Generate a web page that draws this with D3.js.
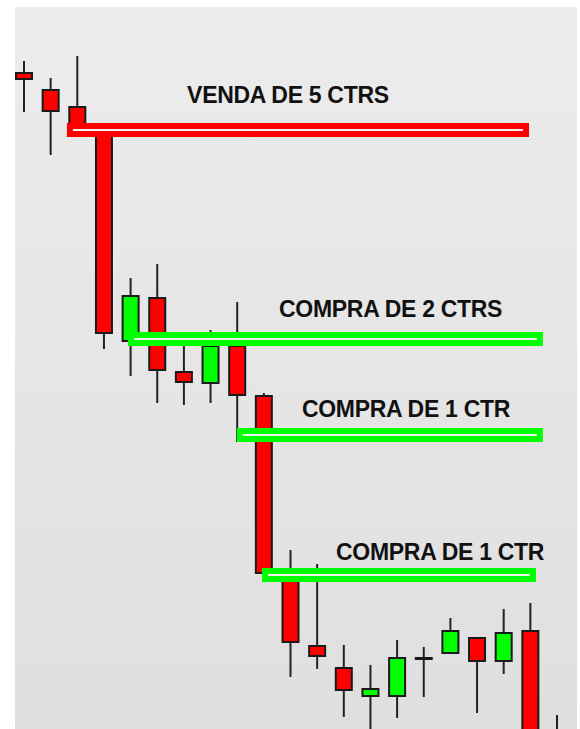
<!DOCTYPE html>
<html>
<head>
<meta charset="utf-8">
<script src="https://cdn.jsdelivr.net/npm/d3@7"></script>
<style>
  body { margin: 0; background: #fff; }
  svg { display: block; }
</style>
</head>
<body>
<script>
// candle data (index points)
const open  = [99670, 99585, 99500, 99380, 98330, 98545, 98175, 98120, 98305, 98055, 97135, 96805, 96695, 96555, 96555, 96745, 96770, 96845, 96730, 96880, 96330]
const high  = [99730, 99645, 99755, 99400, 98645, 98715, 98345, 98385, 98525, 98070, 97285, 97215, 96810, 96710, 96835, 96800, 96945, 96845, 96990, 97020, 96460]
const low   = [99475, 99260, 99370, 98290, 98155, 98020, 98010, 98020, 97825, 97155, 96650, 96690, 96450, 96360, 96445, 96550, 96770, 96470, 96665, 96135, 96150]
const close = [99640, 99480, 99385, 98370, 98555, 98185, 98125, 98305, 98060, 97170, 96825, 96755, 96585, 96590, 96745, 96745, 96880, 96730, 96870, 96235, 96250]

// drawn order levels
const levelNames  = ['VENDA DE 5 CTRS', 'COMPRA DE 2 CTRS', 'COMPRA DE 1 CTR', 'COMPRA DE 1 CTR']
const levelSide   = ['sell', 'buy', 'buy', 'buy']
const levelPrice  = [99385, 98340, 97860, 97160]
const levelFrom   = [1.61, 3.90, 7.99, 8.93]
const levelTo     = [18.95, 19.47, 19.47, 19.21]
const labelIdx    = [6.12, 9.57, 10.43, 11.71]
const labelPrice  = [99520, 98450, 97950, 97235]

const W = 580, H = 729
const panel = { x: 15, y: 7, w: 562, h: 722 }

const svg = d3.select(document.body).append('svg')
  .attr('width', W)
  .attr('height', H)
  .attr('xmlns', 'http://www.w3.org/2000/svg')

const defs = svg.append('defs')
const grad = defs.append('linearGradient')
  .attr('id', 'bg').attr('x1', 0).attr('y1', 0).attr('x2', 0).attr('y2', 1)
grad.append('stop').attr('offset', 0).attr('stop-color', '#ececec')
grad.append('stop').attr('offset', 1).attr('stop-color', '#dfdfdf')

defs.append('clipPath').attr('id', 'clip')
  .append('rect')
  .attr('x', panel.x).attr('y', panel.y)
  .attr('width', panel.w).attr('height', panel.h)

svg.append('rect')
  .attr('x', panel.x).attr('y', panel.y)
  .attr('width', panel.w).attr('height', panel.h)
  .attr('fill', 'url(#bg)')

const x = d3.scaleLinear([0, 20], [24, 557])
const y = d3.scaleLinear([96390, 100000], [729, 7])

const bodyW = 16
const g = svg.append('g').attr('clip-path', 'url(#clip)')

const candles = g.selectAll('g.candle')
  .data(d3.range(open.length))
  .join('g')
  .attr('class', 'candle')

candles.append('line')
  .attr('x1', i => x(i)).attr('x2', i => x(i))
  .attr('y1', i => y(high[i])).attr('y2', i => y(low[i]))
  .attr('stroke', '#222')
  .attr('stroke-width', 2)

candles.append('rect')
  .attr('x', i => x(i) - bodyW / 2)
  .attr('width', bodyW)
  .attr('y', i => y(Math.max(open[i], close[i])))
  .attr('height', i => Math.max(1, Math.abs(y(open[i]) - y(close[i]))))
  .attr('fill', i => close[i] > open[i] ? '#00ff00' : '#ff0000')
  .attr('stroke', '#1a1a1a')
  .attr('stroke-width', 2)

// order levels
const lv = g.selectAll('g.level')
  .data(d3.range(levelPrice.length))
  .join('g')
  .attr('class', 'level')

lv.append('rect')
  .attr('x', i => x(levelFrom[i]))
  .attr('width', i => x(levelTo[i]) - x(levelFrom[i]))
  .attr('y', i => y(levelPrice[i]) - 7)
  .attr('height', 14)
  .attr('fill', i => levelSide[i] === 'sell' ? '#ff0000' : '#00ff00')

lv.append('line')
  .attr('x1', i => x(levelFrom[i]) + 6)
  .attr('x2', i => x(levelTo[i]) - 6)
  .attr('y1', i => y(levelPrice[i]))
  .attr('y2', i => y(levelPrice[i]))
  .attr('stroke', '#f2f2f2')
  .attr('stroke-width', 2)

svg.selectAll('text.lbl')
  .data(d3.range(levelNames.length))
  .join('text')
  .attr('class', 'lbl')
  .attr('x', i => x(labelIdx[i]))
  .attr('y', i => y(labelPrice[i]))
  .attr('font-family', '"Liberation Sans", Arial, sans-serif')
  .attr('font-weight', 'bold')
  .attr('font-size', 23)
  .attr('letter-spacing', -0.3)
  .attr('fill', '#111')
  .text(i => levelNames[i])
</script>
</body>
</html>
